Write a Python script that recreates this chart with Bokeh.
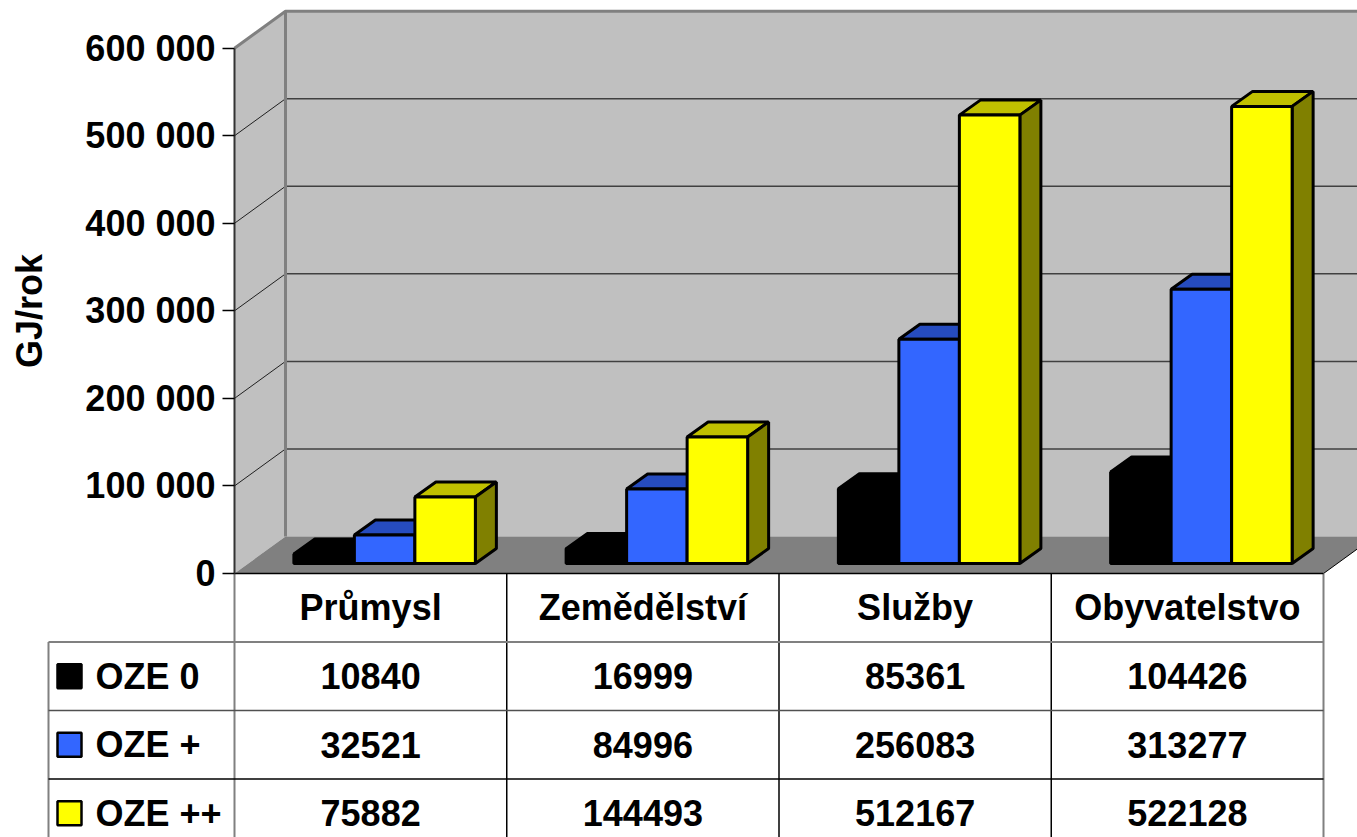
from bokeh.plotting import figure
from bokeh.models import Range1d, FixedTicker, CustomJSTickFormatter
from bokeh.core.properties import value
from bokeh.embed import file_html
from bokeh.resources import INLINE

# ---------------- data ----------------
categories = ["Průmysl", "Zemědělství", "Služby", "Obyvatelstvo"]
series_names = ["OZE 0", "OZE +", "OZE ++"]
oze_0 = [10840, 16999, 85361, 104426]
oze_plus = [32521, 84996, 256083, 313277]
oze_plus_plus = [75882, 144493, 512167, 522128]
y_ticks = [0, 100000, 200000, 300000, 400000, 500000, 600000]
y_title = "GJ/rok"

series_values = [oze_0, oze_plus, oze_plus_plus]

# ---------------- style / layout ----------------
front_colors = ["#000000", "#3366ff", "#ffff00"]
top_colors = ["#000000", "#264cbf", "#c0c000"]
side_colors = ["#000000", "#1a3380", "#808000"]
FONT = "Liberation Sans"
FSIZE = "36px"

W = 1357
H = 837
AXIS_X = 234          # px of the front value axis from the left
ZERO_Y = 573          # px of value 0 on the front plane from the top
PX_CAT = 272.25       # px per category on the front plane
PX_VAL = 87.55 / 100000.0  # px per value unit
ROW_H = 68.5


def dx(px):
    return px / PX_CAT


def dy(px):
    return px / PX_VAL


n = len(categories)
ymax = y_ticks[-1]
wall_dx, wall_dy = dx(51), dy(37)
bar_fx, bar_fy = dx(14), dy(10)
bar_dx, bar_dy = dx(21), dy(15)
gap = 1.0 / 6.0
bw = (1.0 - 2 * gap) / len(series_values)

p = figure(width=W, height=H, output_backend="svg", toolbar_location=None,
           x_range=Range1d(dx(-AXIS_X), dx(W - AXIS_X)),
           y_range=Range1d(dy(ZERO_Y - H), dy(ZERO_Y)),
           x_axis_type=None, min_border=0, min_border_left=0, min_border_right=0,
           min_border_top=0, min_border_bottom=0)
p.grid.visible = False
p.outline_line_color = None
p.background_fill_color = "white"

# ---------------- 3D chart box ----------------
p.patch([wall_dx, n + wall_dx, n + wall_dx, wall_dx],
        [wall_dy, wall_dy, ymax + wall_dy, ymax + wall_dy],
        fill_color="#c0c0c0", line_color=None)
p.patch([0, wall_dx, wall_dx, 0], [0, wall_dy, ymax + wall_dy, ymax],
        fill_color="#c0c0c0", line_color=None)
p.patch([0, n, n + wall_dx, wall_dx], [0, 0, wall_dy, wall_dy],
        fill_color="#808080", line_color=None)

grid = y_ticks[1:-1]
p.segment(x0=[0] * len(grid), y0=grid, x1=[wall_dx] * len(grid),
          y1=[g + wall_dy for g in grid], line_color="#202020", line_width=1)
p.segment(x0=[wall_dx] * len(grid), y0=[g + wall_dy for g in grid],
          x1=[n + wall_dx] * len(grid), y1=[g + wall_dy for g in grid],
          line_color="#404040", line_width=1.5)

p.line([0, wall_dx, n + wall_dx], [ymax, ymax + wall_dy, ymax + wall_dy],
       line_color="#808080", line_width=3)
p.line([wall_dx, wall_dx], [wall_dy, ymax + wall_dy], line_color="#808080", line_width=3)
p.line([n, n + wall_dx], [0, wall_dy], line_color="black", line_width=1)

# 3D bars
xs, ys, fills = [], [], []
for c in range(n):
    for s, vals in enumerate(series_values):
        v = vals[c]
        x0 = c + gap + s * bw + bar_fx
        x1 = x0 + bw
        y0 = bar_fy
        y1 = y0 + v
        xs.append([x0, x1, x1 + bar_dx, x0 + bar_dx])
        ys.append([y1, y1, y1 + bar_dy, y1 + bar_dy])
        fills.append(top_colors[s])
        xs.append([x1, x1 + bar_dx, x1 + bar_dx, x1])
        ys.append([y0, y0 + bar_dy, y1 + bar_dy, y1])
        fills.append(side_colors[s])
        xs.append([x0, x1, x1, x0])
        ys.append([y0, y0, y1, y1])
        fills.append(front_colors[s])
p.patches(xs, ys, fill_color=fills, line_color="black", line_width=3)

# ---------------- value axis ----------------
ax = p.yaxis[0]
ax.fixed_location = 0
ax.ticker = FixedTicker(ticks=y_ticks)
ax.bounds = (0, ymax)
ax.formatter = CustomJSTickFormatter(
    code="return String(Math.round(tick)).replace(/\\B(?=(\\d{3})+(?!\\d))/g, ' ');")
ax.major_label_text_font = FONT
ax.major_label_text_font_size = FSIZE
ax.major_label_text_font_style = "bold"
ax.major_label_text_color = "black"
ax.major_label_standoff = 7
ax.major_tick_out = 12
ax.major_tick_in = 0
ax.minor_tick_out = 0
ax.minor_tick_in = 0
ax.major_tick_line_color = "black"
ax.major_tick_line_width = 1.5
ax.axis_line_color = "#333333"
ax.axis_line_width = 2
ax.axis_label = y_title
ax.axis_label_text_font = FONT
ax.axis_label_text_font_size = FSIZE
ax.axis_label_text_font_style = "bold"
ax.axis_label_text_color = "black"
ax.axis_label_standoff = 32

# ---------------- data table ----------------
def row_y(k):
    return -dy(k * ROW_H)


leg_left = dx(48 - AXIS_X)
bottom = row_y(5)
p.segment(x0=[0, n], y0=[0, 0], x1=[0, n], y1=[bottom, bottom],
          line_color="#808080", line_width=2)
p.segment(x0=list(range(1, n)), y0=[0] * (n - 1), x1=list(range(1, n)),
          y1=[bottom] * (n - 1), line_color="black", line_width=1.5)
p.segment(x0=[leg_left], y0=[row_y(1)], x1=[leg_left], y1=[bottom],
          line_color="#808080", line_width=2)
p.segment(x0=[0], y0=[0], x1=[n], y1=[0], line_color="black", line_width=1.5)
p.segment(x0=[leg_left], y0=[row_y(1)], x1=[n], y1=[row_y(1)],
          line_color="#808080", line_width=2)
p.segment(x0=[leg_left], y0=[row_y(2)], x1=[n], y1=[row_y(2)],
          line_color="#505050", line_width=1.5)
p.segment(x0=[leg_left], y0=[row_y(3)], x1=[n], y1=[row_y(3)],
          line_color="black", line_width=1.5)

p.text(x=[c + 0.5 for c in range(n)], y=[row_y(0.5)] * n, text=categories,
       text_font=value(FONT), text_font_size=value(FSIZE), text_font_style="bold",
       text_align="center", text_baseline="middle", text_color="black")

vx, vy, vt = [], [], []
for r, vals in enumerate(series_values):
    for c in range(n):
        vx.append(c + 0.5)
        vy.append(row_y(r + 1.5))
        vt.append(str(vals[c]))
p.text(x=vx, y=vy, text=vt, text_font=value(FONT), text_font_size=value(FSIZE),
       text_font_style="bold", text_align="center", text_baseline="middle", text_color="black")

rows = [row_y(r + 1.5) for r in range(len(series_names))]
p.scatter(x=[dx(69 - AXIS_X)] * len(series_names), y=rows, marker="square", size=24,
          fill_color=front_colors, line_color="black", line_width=2.5)
p.text(x=[dx(95 - AXIS_X)] * len(series_names), y=rows, text=series_names,
       text_font=value(FONT), text_font_size=value(FSIZE), text_font_style="bold",
       text_align="left", text_baseline="middle", text_color="black")

open("out.html", "w").write(file_html(p, INLINE))
